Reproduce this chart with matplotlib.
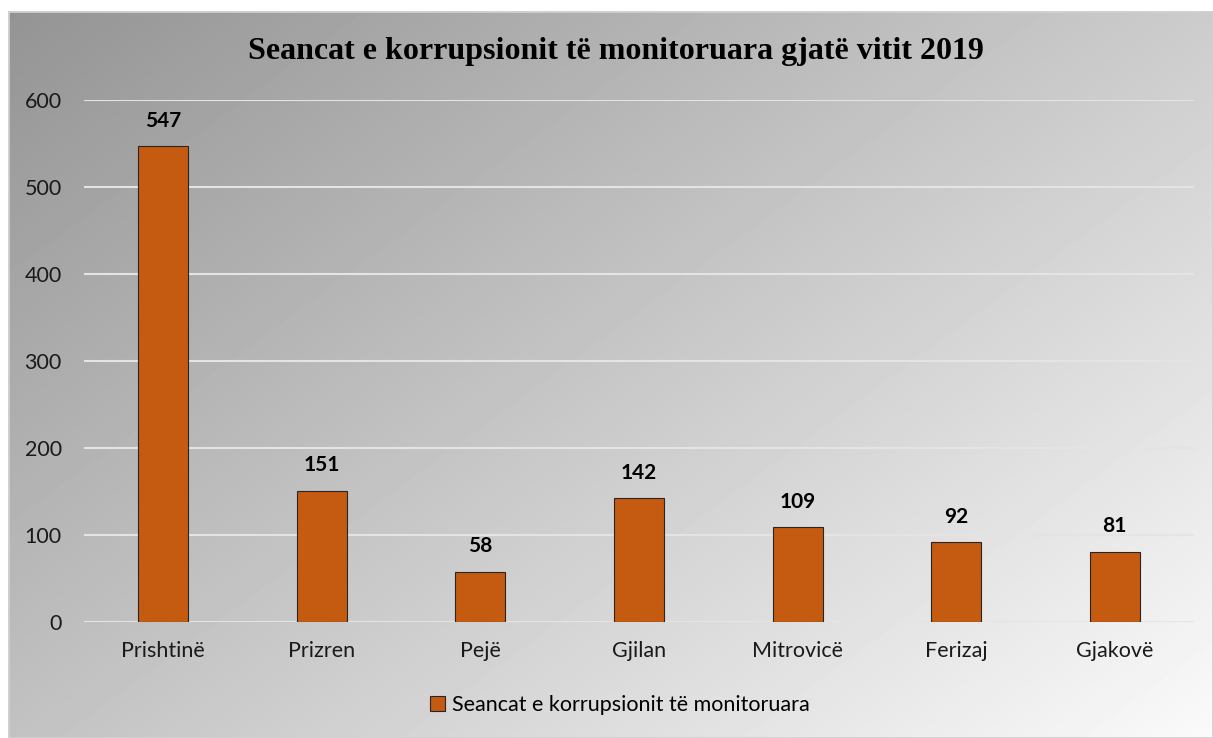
import numpy as np
import matplotlib
matplotlib.use("Agg")
import matplotlib.pyplot as plt
from matplotlib.patches import Patch, Rectangle

cities = ["Prishtinë", "Prizren", "Pejë", "Gjilan", "Mitrovicë", "Ferizaj", "Gjakovë"]
sessions = [547, 151, 58, 142, 109, 92, 81]
y_ticks = [0, 100, 200, 300, 400, 500, 600]
title = "Seancat e korrupsionit të monitoruara gjatë vitit 2019"
series_name = "Seancat e korrupsionit të monitoruara"

W, H = 1213, 738
fig = plt.figure(figsize=(W / 100, H / 100), dpi=100)
fig.patch.set_facecolor("white")

# diagonal gray gradient behind the chart area
x0, y0 = 8 / W, 0.0
bg = fig.add_axes([x0, y0, 1 - x0, 1 - 11 / H])
gx, gy = np.meshgrid(np.linspace(0, 1, 300), np.linspace(0, 1, 200))
t = (gx * 0.55 + gy * 0.45)
bg.imshow(t, cmap="gray", vmin=-1.45, vmax=1.05, aspect="auto",
          extent=[0, 1, 0, 1], origin="upper", interpolation="bilinear")
bg.add_patch(Rectangle((0, 0), 1, 1, fill=False, edgecolor="#d0d0d0",
                       linewidth=2, transform=bg.transAxes))
bg.set_axis_off()

sans = ["Lato", "DejaVu Sans"]
ax = fig.add_axes([84 / W, 1 - 622 / H, (1194 - 84) / W, (622 - 100) / H])
ax.set_facecolor("none")
x = np.arange(len(cities))
bars = ax.bar(x, sessions, width=0.315, color="#C55A11", edgecolor="#262626",
              linewidth=0.8, zorder=3, label=series_name)
ax.set_xlim(-0.5, len(cities) - 0.5)
ax.set_ylim(0, 600)
ax.set_yticks(y_ticks)
ax.set_yticklabels([str(v) for v in y_ticks], fontsize=15.5, family=sans)
ax.set_xticks(x)
ax.set_xticklabels(cities, fontsize=15.5, family=sans)
ax.tick_params(length=0, colors="#1a1a1a")
ax.tick_params(axis="x", pad=14)
ax.tick_params(axis="y", pad=16)
ax.yaxis.grid(True, color="#e4e4e4", linewidth=1.5, zorder=0)
for s in ax.spines.values():
    s.set_visible(False)

for b, v in zip(bars, sessions):
    ax.annotate(str(v), (b.get_x() + b.get_width() / 2, v), xytext=(0, 11),
                textcoords="offset points", ha="center", va="bottom",
                fontsize=15, fontweight="bold", family=sans)

fig.text(616 / W, 1 - 52 / H, title, ha="center", va="center",
         fontsize=23, fontweight="bold", family="Liberation Serif")

fig.legend(handles=[Patch(facecolor="#C55A11", edgecolor="#262626", linewidth=0.8,
                          label=series_name)],
           loc="center", bbox_to_anchor=(620 / W, 1 - 705 / H), frameon=False,
           prop={"family": sans, "size": 15.5}, handlelength=0.7, handleheight=0.7,
           handletextpad=0.3)

fig.savefig("out.png", dpi=100)
